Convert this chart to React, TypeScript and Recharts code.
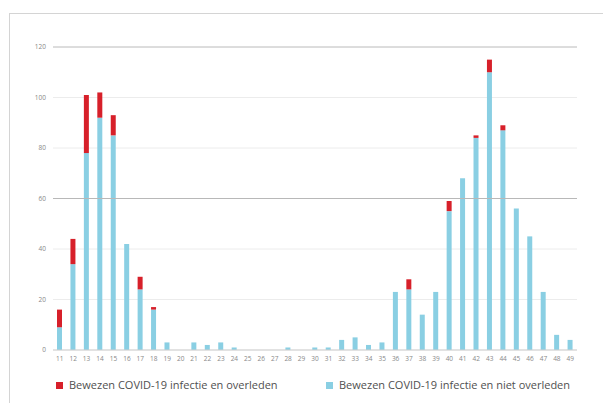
import React from "react";
import { BarChart, Bar, XAxis, YAxis, CartesianGrid, ReferenceLine, Legend } from "recharts";

const weeks = [
  "11", "12", "13", "14", "15", "16", "17", "18", "19", "20",
  "21", "22", "23", "24", "25", "26", "27", "28", "29", "30",
  "31", "32", "33", "34", "35", "36", "37", "38", "39", "40",
  "41", "42", "43", "44", "45", "46", "47", "48", "49",
];

const nietOverleden = [
  9, 34, 78, 92, 85, 42, 24, 16, 3, 0,
  3, 2, 3, 1, 0, 0, 0, 1, 0, 1,
  1, 4, 5, 2, 3, 23, 24, 14, 23, 55,
  68, 84, 110, 87, 56, 45, 23, 6, 4,
];

const overleden = [
  7, 10, 23, 10, 8, 0, 5, 1, 0, 0,
  0, 0, 0, 0, 0, 0, 0, 0, 0, 0,
  0, 0, 0, 0, 0, 0, 4, 0, 0, 4,
  0, 1, 5, 2, 0, 0, 0, 0, 0,
];

const yTicks = [0, 20, 40, 60, 80, 100, 120];

const seriesNames = [
  "Bewezen COVID-19 infectie en overleden",
  "Bewezen COVID-19 infectie en niet overleden",
];
const RED = "#d7202a";
const BLUE = "#8acfe3";

const data = weeks.map((w, i) => ({
  week: w,
  niet: nietOverleden[i],
  over: overleden[i],
}));

const FONT = "'Open Sans', 'Noto Sans', sans-serif";

const LegendContent = () => (
  <div
    style={{
      position: "relative",
      width: 603,
      height: 20,
      fontFamily: FONT,
      fontSize: 11,
      color: "#505050",
    }}
  >
    <div style={{ position: "absolute", left: 56, top: 4, width: 7, height: 7, background: RED }} />
    <div style={{ position: "absolute", left: 69, top: -1, whiteSpace: "nowrap" }}>{seriesNames[0]}</div>
    <div style={{ position: "absolute", left: 326, top: 4, width: 7, height: 7, background: BLUE }} />
    <div style={{ position: "absolute", left: 339, top: -1, whiteSpace: "nowrap" }}>{seriesNames[1]}</div>
  </div>
);

export default function App() {
  return (
    <div
      style={{
        position: "absolute",
        left: 0,
        top: 0,
        width: 603,
        height: 403,
        background: "#fff",
        overflow: "hidden",
      }}
    >
      <div
        style={{
          position: "absolute",
          left: 9,
          top: 13,
          width: 603,
          height: 400,
          borderTop: "1px solid #d4d4d4",
          borderLeft: "1px solid #d4d4d4",
        }}
      />
      <BarChart
        width={603}
        height={403}
        data={data}
        margin={{ top: 47, right: 26, bottom: 0, left: 0 }}
        barCategoryGap={0}
      >
        <CartesianGrid vertical={false} stroke="#ececec" />
        <ReferenceLine y={60} stroke="#b8b8b8" />
        <ReferenceLine y={120} stroke="#c4c4c4" />
        <XAxis
          dataKey="week"
          interval={0}
          tickLine={false}
          axisLine={{ stroke: "#cfcfcf" }}
          tickSize={0}
          tickMargin={6}
          height={33}
          tick={{ fontSize: 6.5, fill: "#888", fontFamily: FONT }}
        />
        <YAxis
          domain={[0, 120]}
          ticks={yTicks}
          width={53}
          tickLine={false}
          axisLine={false}
          tickSize={0}
          tickMargin={7}
          tick={{ fontSize: 6.5, fill: "#888", fontFamily: FONT }}
        />
        <Legend
          verticalAlign="bottom"
          content={<LegendContent />}
          wrapperStyle={{ left: 0, bottom: 5, width: 603, height: 20 }}
        />
        <Bar dataKey="niet" stackId="a" fill={BLUE} barSize={5} isAnimationActive={false} name={seriesNames[1]} />
        <Bar dataKey="over" stackId="a" fill={RED} barSize={5} isAnimationActive={false} name={seriesNames[0]} />
      </BarChart>
    </div>
  );
}
